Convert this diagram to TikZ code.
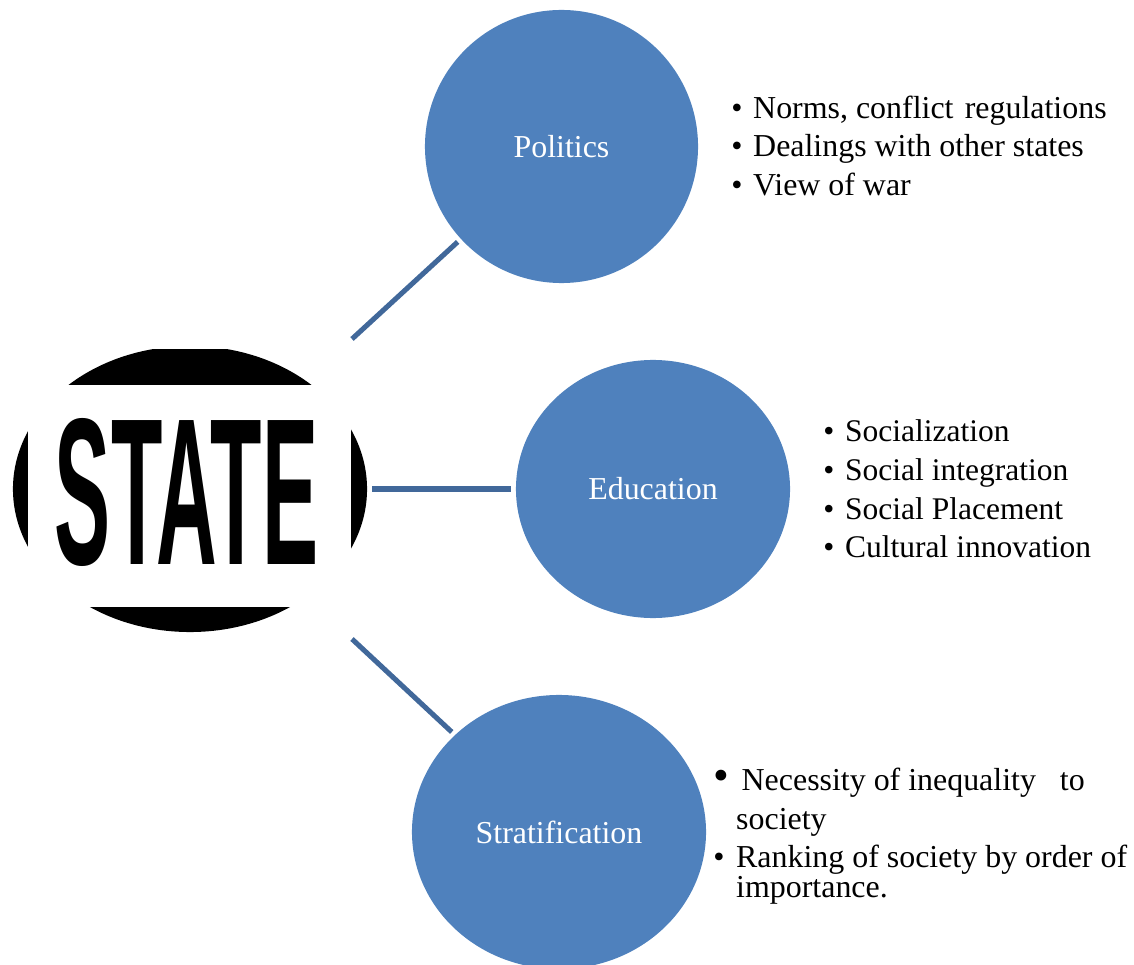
\documentclass[tikz,border=0pt]{standalone}
\usepackage{fontspec}
\setmainfont{Liberation Serif}
\newfontfamily\statefont{Liberation Sans}
\usetikzlibrary{shapes.geometric}
\definecolor{topicblue}{HTML}{4F81BD}
\definecolor{linkblue}{HTML}{41689A}
\newcommand{\bul}{\makebox[15.6pt][l]{\textbullet}}
\tikzset{
  topic/.style={ellipse, fill=topicblue, text=white, inner sep=0pt, outer sep=3.2pt},
  link/.style={draw=linkblue, line width=3.6pt},
  notes/.style={anchor=west, align=left, inner sep=0pt, font=\fontsize{22.7}{27.5}\selectfont}
}
\begin{document}
\begin{tikzpicture}[x=0.025cm, y=-0.025cm, font=\fontsize{22.7}{27.5}\selectfont]
  \useasboundingbox (0,0) rectangle (1134,965);
  \begin{scope}
    \clip (0,350) rectangle (400,640);
    \node[ellipse, fill=black, inner sep=0pt, minimum width=8.85cm, minimum height=7.15cm] (state) at (190,489) {};
  \end{scope}
  \node[fill=white, inner sep=0pt, minimum width=8.075cm, minimum height=5.55cm] (band) at (189.5,496) {};
  \node[inner sep=0pt] (statetext) at (186.5,492) {\resizebox{6.575cm}{3.65cm}{\statefont\bfseries STATE}};

  \node[topic, minimum width=6.825cm, minimum height=6.825cm] (politics) at (561.5,146.5) {Politics};
  \node[topic, minimum width=6.85cm, minimum height=6.45cm] (education) at (653,489) {Education};
  \node[topic, minimum width=7.35cm, minimum height=6.85cm] (stratification) at (559,832) {Stratification};

  \coordinate (stateup) at (352,339);
  \coordinate (stateright) at (372,489);
  \coordinate (statedown) at (352,639);
  \draw[link] (stateup) -- (politics);
  \draw[link] (stateright) -- (education);
  \draw[link] (statedown) -- (stratification);

  \node[notes] (politicsnotes) at (731,146) {\bul Norms, conflict\hspace{8pt}regulations\\ \bul Dealings with other states\\ \bul View of war};
  \node[notes, font=\fontsize{22.4}{27.5}\selectfont] (educationnotes) at (823,489) {\bul Socialization\\ \bul Social integration\\ \bul Social Placement\\ \bul Cultural innovation};
  \node[notes] (necessity) at (713,802.5) {{\fontsize{32}{32}\selectfont\textbullet}\hspace{9pt}Necessity of inequality\ \ \ to\\ \hspace{16.3pt}society};
  \node[notes] (ranking) at (713,874.5) {\makebox[16.3pt][l]{\textbullet}Ranking of society by order of\\[-6pt] \hspace{16.3pt}importance.};
\end{tikzpicture}
\end{document}
